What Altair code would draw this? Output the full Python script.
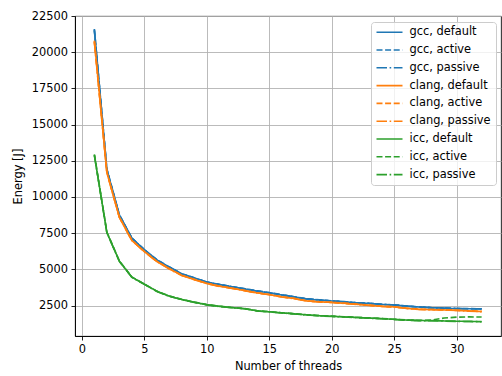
import altair as alt
import pandas as pd

threads = list(range(1, 33))

gcc_default = [21600, 11900, 8750, 7150, 6350, 5650, 5150, 4680, 4400, 4120, 3950, 3800, 3650, 3500, 3380, 3230,
               3100, 2950, 2880, 2820, 2760, 2690, 2650, 2580, 2540, 2460, 2400, 2350, 2320, 2290, 2280, 2270]
gcc_active = [21550, 11950, 8780, 7170, 6370, 5670, 5170, 4700, 4420, 4130, 3970, 3810, 3670, 3520, 3400, 3250,
              3110, 2970, 2900, 2830, 2770, 2700, 2660, 2590, 2550, 2470, 2410, 2360, 2330, 2300, 2290, 2280]
gcc_passive = [21500, 11880, 8760, 7160, 6360, 5660, 5160, 4690, 4410, 4125, 3960, 3805, 3660, 3510, 3390, 3240,
               3105, 2960, 2890, 2825, 2765, 2695, 2655, 2585, 2545, 2465, 2405, 2355, 2325, 2295, 2285, 2275]
clang_default = [20800, 11700, 8600, 7000, 6230, 5550, 5040, 4580, 4300, 4030, 3840, 3700, 3540, 3380, 3260, 3100,
                 2990, 2820, 2760, 2720, 2660, 2590, 2520, 2450, 2410, 2310, 2240, 2220, 2200, 2170, 2130, 2090]
clang_active = [20750, 11720, 8620, 7020, 6250, 5560, 5060, 4600, 4310, 4040, 3850, 3710, 3550, 3390, 3270, 3110,
                3000, 2830, 2770, 2730, 2670, 2600, 2530, 2460, 2420, 2320, 2250, 2230, 2210, 2180, 2140, 2100]
clang_passive = [20700, 11680, 8590, 6990, 6220, 5540, 5030, 4570, 4290, 4020, 3830, 3690, 3530, 3370, 3250, 3090,
                 2980, 2810, 2750, 2710, 2650, 2580, 2510, 2440, 2400, 2300, 2230, 2210, 2190, 2160, 2120, 2080]
icc_default = [12900, 7550, 5570, 4460, 3980, 3490, 3150, 2920, 2730, 2560, 2450, 2360, 2290, 2140, 2070, 2000,
               1930, 1860, 1800, 1760, 1720, 1680, 1640, 1600, 1550, 1500, 1470, 1460, 1440, 1420, 1410, 1390]
icc_active = [12950, 7580, 5590, 4480, 3990, 3500, 3160, 2930, 2740, 2570, 2460, 2370, 2300, 2150, 2080, 2010,
              1940, 1870, 1810, 1770, 1730, 1690, 1650, 1610, 1560, 1510, 1480, 1500, 1640, 1700, 1720, 1710]
icc_passive = [12880, 7540, 5560, 4450, 3970, 3480, 3140, 2910, 2720, 2550, 2440, 2350, 2280, 2130, 2060, 1990,
               1920, 1850, 1790, 1750, 1710, 1670, 1630, 1590, 1540, 1490, 1460, 1450, 1430, 1410, 1400, 1385]

series_names = ["gcc, default", "gcc, active", "gcc, passive",
                "clang, default", "clang, active", "clang, passive",
                "icc, default", "icc, active", "icc, passive"]
series_values = [gcc_default, gcc_active, gcc_passive,
                 clang_default, clang_active, clang_passive,
                 icc_default, icc_active, icc_passive]
y_ticks = [2500, 5000, 7500, 10000, 12500, 15000, 17500, 20000, 22500]
x_ticks = [0, 5, 10, 15, 20, 25, 30]

rows = []
for i, (name, vals) in enumerate(zip(series_names, series_values)):
    for t, v in zip(threads, vals):
        rows.append({"threads": t, "energy": v, "series": name, "idx": i})
df = pd.DataFrame(rows)

blue, orange, green = "#1f77b4", "#ff7f0e", "#2ca02c"
colors = [blue] * 3 + [orange] * 3 + [green] * 3
dashes = [[1, 0], [6, 2.6], [10.5, 2.6, 1.6, 2.6]] * 3

FS = 11.4

legend = alt.Legend(orient="none", legendX=296, legendY=6, title=None,
                    symbolType="stroke", symbolSize=676, symbolStrokeWidth=1.6,
                    clipHeight=FS,
                    labelFontSize=FS, labelFont="DejaVu Sans", labelColor="black",
                    labelOffset=6, rowPadding=4.8, padding=4.5,
                    fillColor="rgba(255,255,255,0.8)", strokeColor="#cccccc", cornerRadius=3)

chart = alt.Chart(df).mark_line(strokeWidth=1.63).encode(
    x=alt.X("threads:Q", scale=alt.Scale(domain=[-0.55, 33.55], nice=False, zero=False),
            axis=alt.Axis(values=x_ticks, title="Number of threads", format="d",
                          titleX=213, titleY=24, titleBaseline="top", titleAlign="center")),
    y=alt.Y("energy:Q", scale=alt.Scale(domain=[400, 22500], nice=False, zero=False),
            axis=alt.Axis(values=y_ticks, title="Energy [J]", format="d",
                          titleX=-52, titleY=160, titleAlign="center", titleBaseline="bottom",
                          titleAngle=270)),
    color=alt.Color("series:N", scale=alt.Scale(domain=series_names, range=colors), legend=legend),
    strokeDash=alt.StrokeDash("series:N", scale=alt.Scale(domain=series_names, range=dashes), legend=legend),
    order=alt.Order("idx:Q"),
    detail="idx:Q",
).properties(
    width=426, height=320,
    background="white",
    autosize=alt.AutoSizeParams(type="none"),
    padding={"left": 75, "top": 16, "right": 1, "bottom": 40},
).configure_view(
    stroke="black", strokeWidth=0.87
).configure_axis(
    labelFont="DejaVu Sans", labelFontSize=FS, labelColor="black",
    titleFont="DejaVu Sans", titleFontSize=FS, titleFontWeight="normal", titleColor="black",
    grid=True, gridColor="#b0b0b0", gridWidth=0.87,
    domainColor="black", domainWidth=0.87,
    tickColor="black", tickWidth=0.87, tickSize=4,
    labelPadding=3.5,
)

chart.save("out.html", embed_options={"renderer": "svg", "actions": False})
